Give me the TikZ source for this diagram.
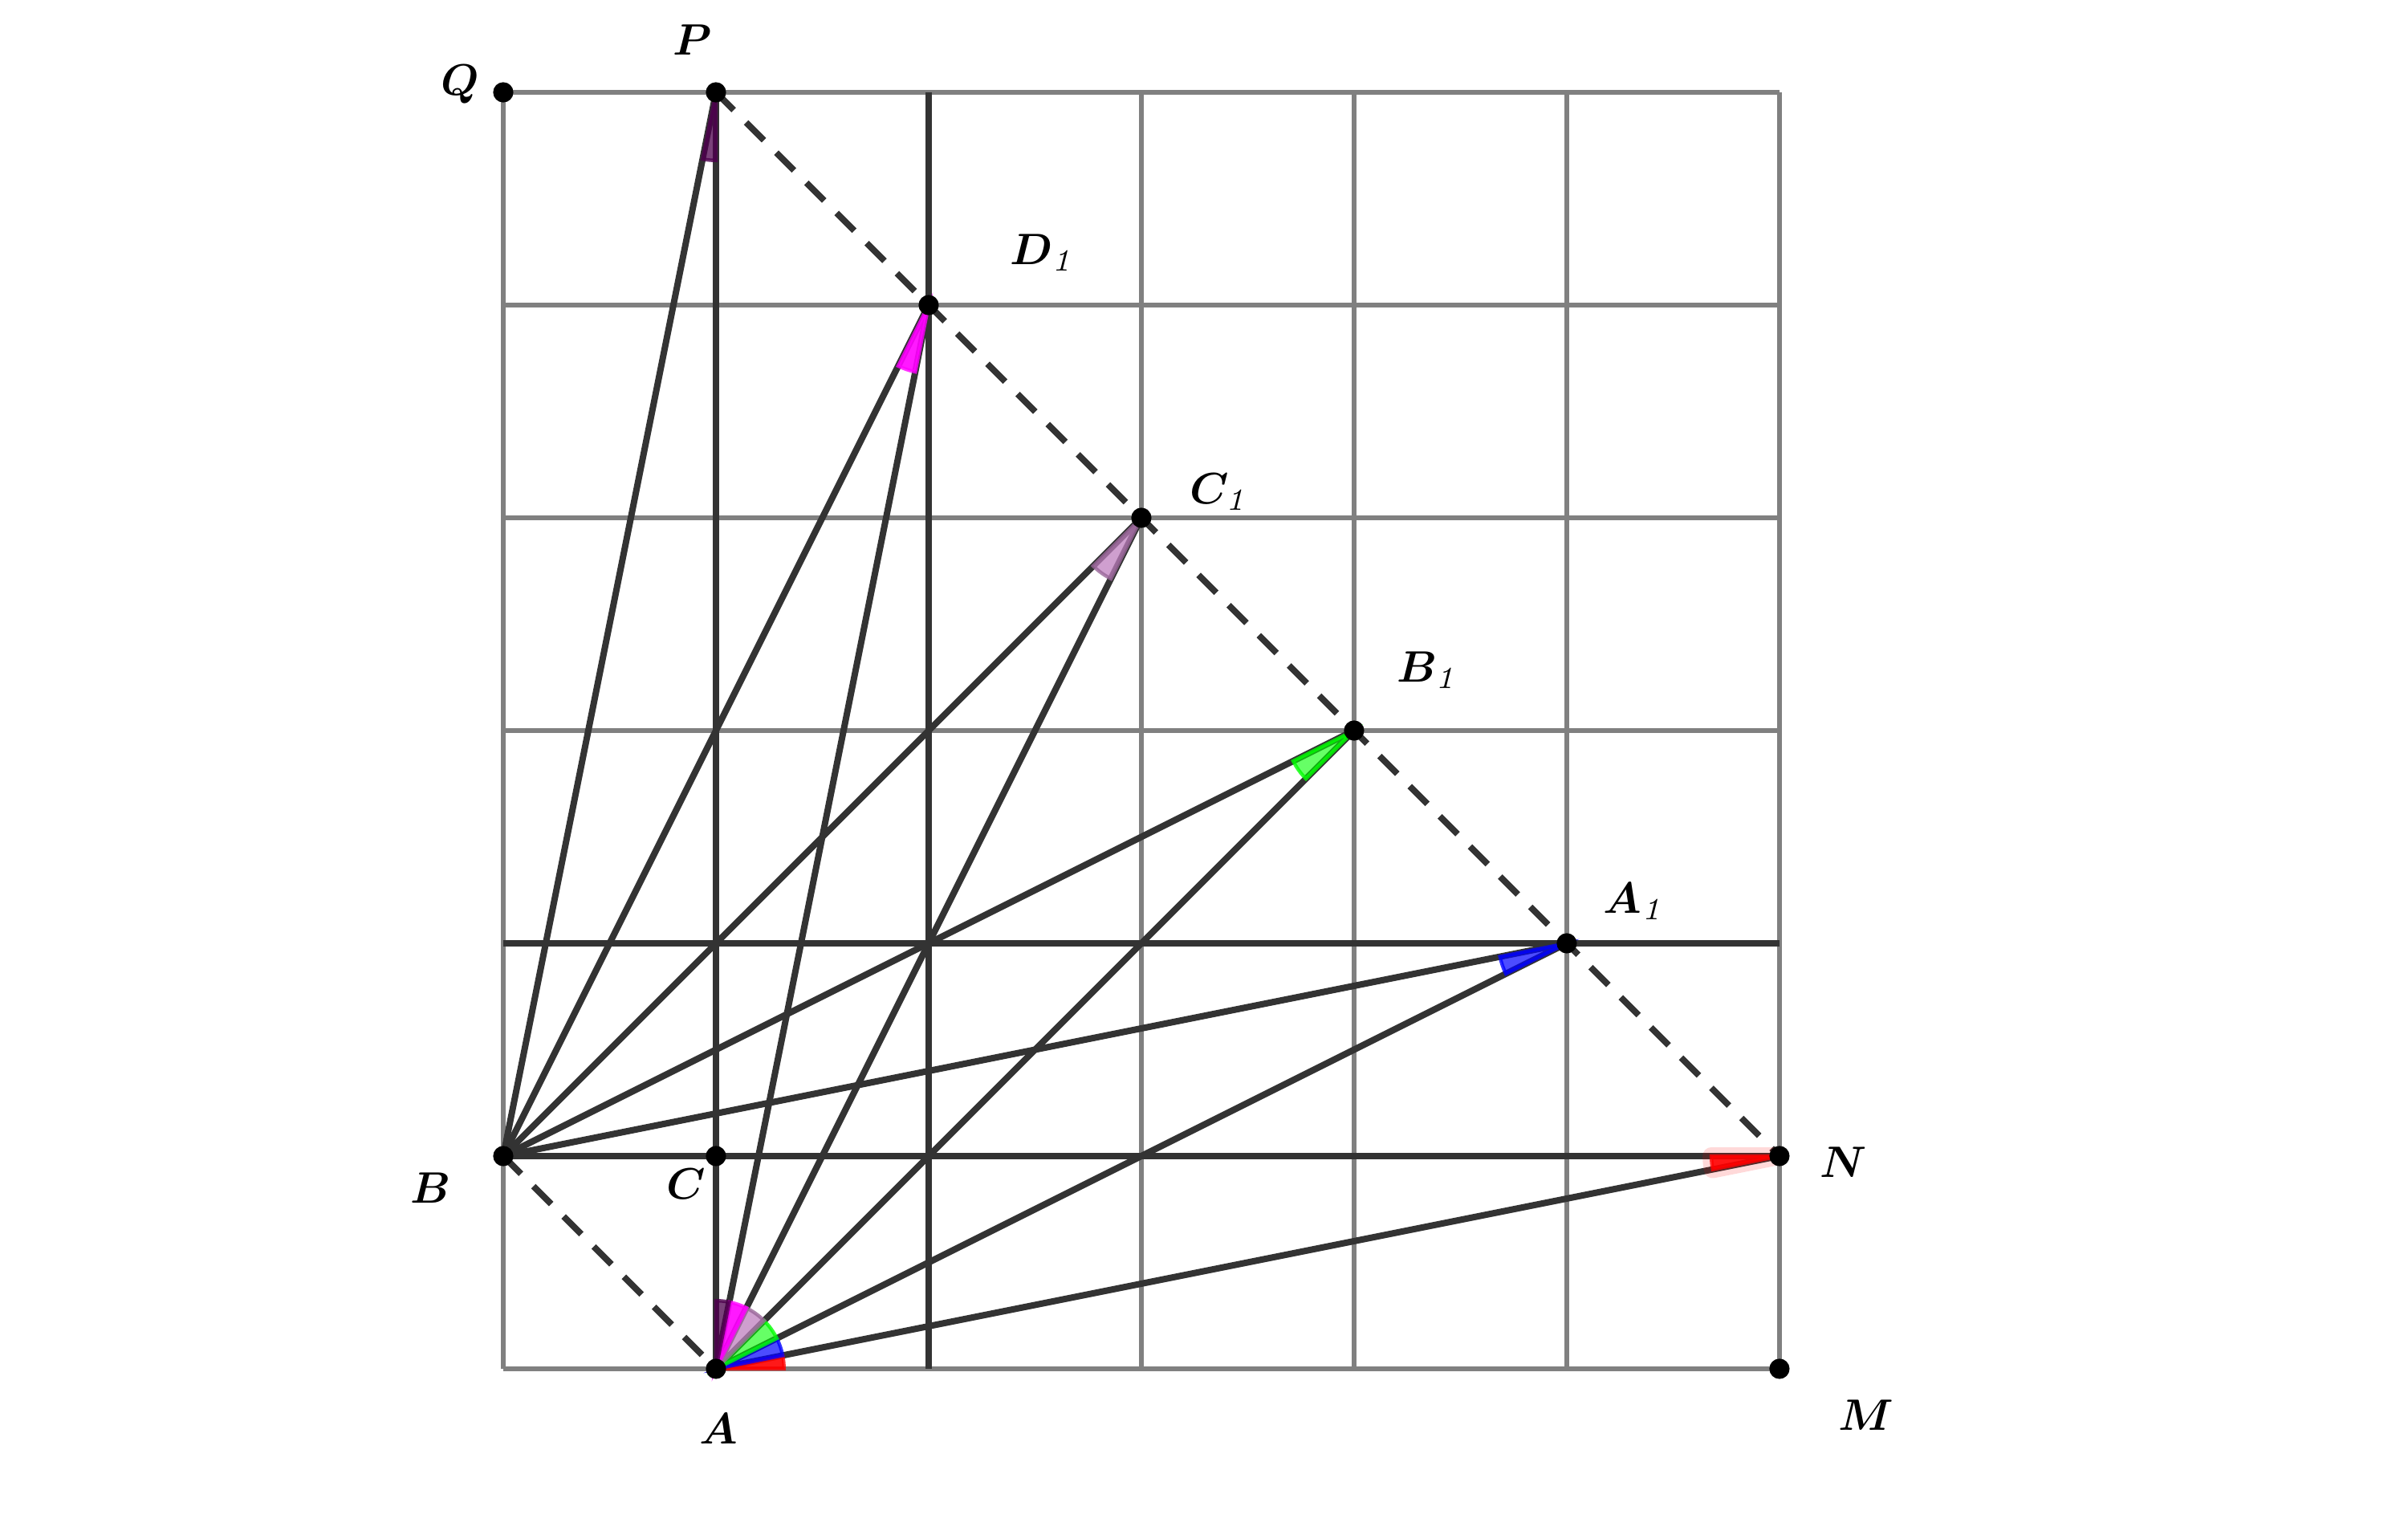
\documentclass[tikz,border=0pt]{standalone}
\usepackage{amsmath,bm}
\definecolor{dpurple}{RGB}{77,0,77}
\definecolor{lpurple}{RGB}{191,127,191}
\definecolor{segcol}{RGB}{51,51,51}
\definecolor{gridcol}{RGB}{128,128,128}
\definecolor{myred}{RGB}{255,0,0}
\definecolor{mygreen}{RGB}{0,255,0}
\definecolor{myblue}{RGB}{0,0,255}
\definecolor{mymag}{RGB}{255,0,255}
\begin{document}
\begin{tikzpicture}[x=1.7cm,y=1.7cm,
  gridline/.style={draw=gridcol,line width=1.2pt},
  seg/.style={draw=segcol,line width=1.46pt},
  dashseg/.style={seg,dash pattern=on 5.7pt off 4pt},
  dot/.style={circle,fill=black,inner sep=0pt,minimum size=4.6pt},
  lbl/.style={inner sep=0pt},
  ang/.style={line width=0.8pt,fill opacity=0.75,draw opacity=0.8}]
\useasboundingbox (-2.366,-0.762) rectangle (8.955,6.434);
% points
\coordinate (Q) at (0,6);
\coordinate (P) at (1,6);
\coordinate (D1) at (2,5);
\coordinate (C1) at (3,4);
\coordinate (B1) at (4,3);
\coordinate (A1) at (5,2);
\coordinate (N) at (6,1);
\coordinate (M) at (6,0);
\coordinate (A) at (1,0);
\coordinate (B) at (0,1);
\coordinate (C) at (1,1);
\coordinate (X2b) at (2,0);
\coordinate (X2t) at (2,6);
\coordinate (Y2l) at (0,2);
\coordinate (Y2r) at (6,2);
% grid
\foreach \i in {0,...,6} {
  \draw[gridline] (\i,0) -- (\i,6);
  \draw[gridline] (0,\i) -- (6,\i);
}
% dark lines
\draw[seg] (A) -- (P);
\draw[seg] (X2b) -- (X2t);
\draw[seg] (Y2l) -- (Y2r);
\draw[seg] (B) -- (N);
\foreach \t in {P,D1,C1,B1,A1} \draw[seg] (B) -- (\t);
\foreach \t in {D1,C1,B1,A1,N} \draw[seg] (A) -- (\t);
\draw[dashseg] (P) -- (N);
\draw[dashseg] (B) -- (A);
% angle marks at A
\def\r{0.32}
\filldraw[ang,fill=myred,draw=myred,fill opacity=0.9] (A) -- ++(0:\r) arc[start angle=0,end angle=11.31,radius=\r] -- cycle;
\filldraw[ang,fill=myblue,draw=myblue,fill opacity=0.7] (A) -- ++(11.31:\r) arc[start angle=11.31,end angle=26.57,radius=\r] -- cycle;
\filldraw[ang,fill=mygreen,draw=mygreen,fill opacity=0.6] (A) -- ++(26.57:\r) arc[start angle=26.57,end angle=45,radius=\r] -- cycle;
\filldraw[ang,fill=lpurple,draw=lpurple!80!black,fill opacity=0.75] (A) -- ++(45:\r) arc[start angle=45,end angle=63.43,radius=\r] -- cycle;
\filldraw[ang,fill=mymag,draw=mymag,fill opacity=0.9] (A) -- ++(63.43:\r) arc[start angle=63.43,end angle=78.69,radius=\r] -- cycle;
\filldraw[ang,fill=dpurple,draw=dpurple] (A) -- ++(78.69:\r) arc[start angle=78.69,end angle=90,radius=\r] -- cycle;
% angle marks at other vertices
\draw[myred,opacity=0.15,line width=4pt,line join=round] (N) -- ++(180:\r) arc[start angle=180,end angle=191.31,radius=\r] -- cycle;
\filldraw[ang,fill=myred,draw=myred,fill opacity=0.9] (N) -- ++(180:\r) arc[start angle=180,end angle=191.31,radius=\r] -- cycle;
\filldraw[ang,fill=myblue,draw=myblue,fill opacity=0.7] (A1) -- ++(191.31:\r) arc[start angle=191.31,end angle=206.57,radius=\r] -- cycle;
\filldraw[ang,fill=mygreen,draw=mygreen,fill opacity=0.6] (B1) -- ++(206.57:\r) arc[start angle=206.57,end angle=225,radius=\r] -- cycle;
\filldraw[ang,fill=lpurple,draw=lpurple!80!black,fill opacity=0.75] (C1) -- ++(225:\r) arc[start angle=225,end angle=243.43,radius=\r] -- cycle;
\filldraw[ang,fill=mymag,draw=mymag,fill opacity=0.9] (D1) -- ++(243.43:\r) arc[start angle=243.43,end angle=258.69,radius=\r] -- cycle;
\filldraw[ang,fill=dpurple,draw=dpurple] (P) -- ++(258.69:\r) arc[start angle=258.69,end angle=270,radius=\r] -- cycle;
% dots
\foreach \p in {Q,P,D1,C1,B1,A1,N,M,A,B,C} \node[dot] (d\p) at (\p) {};
% labels
\node[lbl] (lQ) at (-0.204,6.038) {$\boldsymbol{Q}$};
\node[lbl] (lP) at (0.891,6.245) {$\boldsymbol{P}$};
\node[lbl] (lD1) at (2.54,5.245) {$\boldsymbol{D}_{\mathit{1}}$};
\node[lbl] (lC1) at (3.37,4.121) {$\boldsymbol{C}_{\mathit{1}}$};
\node[lbl] (lB1) at (4.351,3.283) {$\boldsymbol{B}_{\mathit{1}}$};
\node[lbl] (lA1) at (5.321,2.196) {$\boldsymbol{A}_{\mathit{1}}$};
\node[lbl] (lN) at (6.302,0.970) {$\boldsymbol{N}$};
\node[lbl] (lM) at (6.408,-0.219) {$\boldsymbol{M}$};
\node[lbl] (lA) at (1.011,-0.283) {$\boldsymbol{A}$};
\node[lbl] (lB) at (-0.340,0.849) {$\boldsymbol{B}$};
\node[lbl] (lC) at (0.860,0.868) {$\boldsymbol{C}$};
\end{tikzpicture}
\end{document}
